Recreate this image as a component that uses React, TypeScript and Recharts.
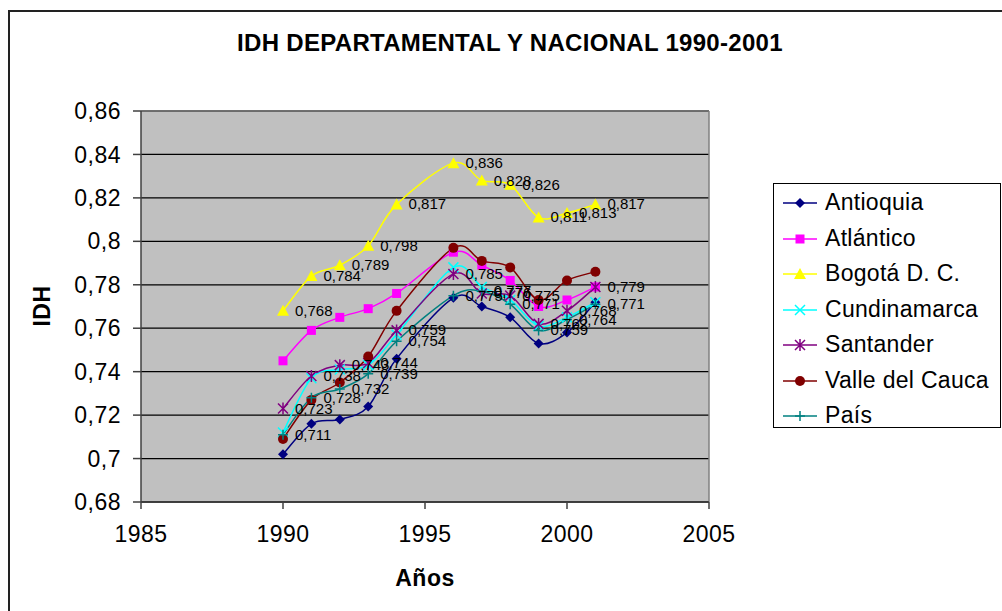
import { LineChart, Line, XAxis, YAxis, CartesianGrid, Legend, LabelList, ReferenceLine } from "recharts";

const years = [1990, 1991, 1992, 1993, 1994, 1996, 1997, 1998, 1999, 2000, 2001];

const antioquia = [0.702, 0.716, 0.718, 0.724, 0.746, 0.774, 0.77, 0.765, 0.753, 0.758, 0.772];
const atlantico = [0.745, 0.759, 0.765, 0.769, 0.776, 0.795, 0.789, 0.782, 0.77, 0.773, 0.779];
const bogota = [0.768, 0.784, 0.789, 0.798, 0.817, 0.836, 0.828, 0.826, 0.811, 0.813, 0.817];
const cundinamarca = [0.712, 0.737, 0.741, 0.743, 0.757, 0.788, 0.779, 0.773, 0.761, 0.765, 0.772];
const santander = [0.723, 0.738, 0.743, 0.744, 0.759, 0.785, 0.776, 0.775, 0.762, 0.768, 0.779];
const valle = [0.709, 0.727, 0.735, 0.747, 0.768, 0.797, 0.791, 0.788, 0.773, 0.782, 0.786];
const pais = [0.711, 0.728, 0.732, 0.739, 0.754, 0.775, 0.777, 0.771, 0.759, 0.764, 0.771];

const xTicks = [1985, 1990, 1995, 2000, 2005];
const yTicks = [0.68, 0.7, 0.72, 0.74, 0.76, 0.78, 0.8, 0.82, 0.84, 0.86];

const series = [
  { key: "Antioquia", values: antioquia, color: "#000080", marker: "diamond", labels: false },
  { key: "Atlántico", values: atlantico, color: "#FF00FF", marker: "square", labels: false },
  { key: "Bogotá D. C.", values: bogota, color: "#FFFF00", marker: "triangle", labels: true },
  { key: "Cundinamarca", values: cundinamarca, color: "#00FFFF", marker: "x", labels: false },
  { key: "Santander", values: santander, color: "#800080", marker: "star", labels: true },
  { key: "Valle del Cauca", values: valle, color: "#800000", marker: "circle", labels: false },
  { key: "País", values: pais, color: "#008080", marker: "plus", labels: true },
];

const data = years.map((year, i) => {
  const row: any = { year };
  series.forEach((s) => (row[s.key] = s.values[i]));
  return row;
});

const FONT = "'Liberation Sans', Arial, sans-serif";
const fmt = (v: number) => String(+Number(v).toFixed(3)).replace(".", ",");

// excel style smoothing (catmull-rom)
function smooth(context: any) {
  let pts: number[][] = [];
  return {
    areaStart() {},
    areaEnd() {},
    lineStart() {
      pts = [];
    },
    lineEnd() {
      if (!pts.length) return;
      context.moveTo(pts[0][0], pts[0][1]);
      for (let i = 0; i < pts.length - 1; i++) {
        const p0 = pts[i - 1] || pts[i];
        const p1 = pts[i];
        const p2 = pts[i + 1];
        const p3 = pts[i + 2] || p2;
        context.bezierCurveTo(
          p1[0] + (p2[0] - p0[0]) / 6,
          p1[1] + (p2[1] - p0[1]) / 6,
          p2[0] - (p3[0] - p1[0]) / 6,
          p2[1] - (p3[1] - p1[1]) / 6,
          p2[0],
          p2[1]
        );
      }
    },
    point(x: number, y: number) {
      pts.push([+x, +y]);
    },
  };
}

function Marker({ type, x, y, color }: { type: string; x: number; y: number; color: string }) {
  switch (type) {
    case "diamond":
      return <polygon points={`${x},${y - 5} ${x + 5},${y} ${x},${y + 5} ${x - 5},${y}`} fill={color} />;
    case "square":
      return <rect x={x - 4.5} y={y - 4.5} width={9} height={9} fill={color} />;
    case "triangle":
      return <polygon points={`${x},${y - 6} ${x + 6},${y + 5} ${x - 6},${y + 5}`} fill={color} />;
    case "x":
      return (
        <path d={`M${x - 5},${y - 5}L${x + 5},${y + 5}M${x + 5},${y - 5}L${x - 5},${y + 5}`} stroke={color} strokeWidth={1.5} />
      );
    case "star":
      return (
        <path
          d={`M${x - 5},${y - 5}L${x + 5},${y + 5}M${x + 5},${y - 5}L${x - 5},${y + 5}M${x},${y - 6}L${x},${y + 6}`}
          stroke={color}
          strokeWidth={1.5}
        />
      );
    case "circle":
      return <circle cx={x} cy={y} r={5} fill={color} />;
    default:
      return <path d={`M${x - 5},${y}L${x + 5},${y}M${x},${y - 5}L${x},${y + 5}`} stroke={color} strokeWidth={1.5} />;
  }
}

function LegendBox() {
  return (
    <div
      style={{
        width: 226,
        height: 243,
        border: "1px solid #000",
        background: "#fff",
        fontFamily: FONT,
        fontSize: 23,
        letterSpacing: 0.3,
        position: "relative",
      }}
    >
      {series.map((s, i) => (
        <div key={s.key} style={{ position: "absolute", left: 0, top: 19 + i * 35.5 - 14, height: 28, width: 226 }}>
          <svg width={50} height={28} style={{ position: "absolute", left: 0, top: 0 }}>
            <line x1={9} x2={43} y1={14} y2={14} stroke={s.color} strokeWidth={1.5} />
            <Marker type={s.marker} x={26} y={14} color={s.color} />
          </svg>
          <span style={{ position: "absolute", left: 51, top: 0, whiteSpace: "nowrap", color: "#000" }}>{s.key}</span>
        </div>
      ))}
    </div>
  );
}

export default function App() {
  return (
    <div style={{ position: "fixed", left: 0, top: 0, width: 1002, height: 611, overflow: "hidden", background: "#fff" }}>
      <div style={{ position: "absolute", left: 8, top: 10, width: 1100, height: 700, border: "2px solid #222" }} />
      <div
        style={{
          position: "absolute",
          left: 0,
          width: 1020,
          top: 29,
          textAlign: "center",
          fontFamily: FONT,
          fontWeight: "bold",
          fontSize: 24,
          letterSpacing: 0.3,
        }}
      >
        IDH DEPARTAMENTAL Y NACIONAL 1990-2001
      </div>
      <div
        style={{
          position: "absolute",
          left: 42,
          top: 306,
          transform: "translate(-50%, -50%) rotate(-90deg)",
          fontFamily: FONT,
          fontWeight: "bold",
          fontSize: 23,
          letterSpacing: 0.5,
        }}
      >
        IDH
      </div>
      <div
        style={{
          position: "absolute",
          left: 425,
          top: 578,
          transform: "translate(-50%, -50%)",
          fontFamily: FONT,
          fontWeight: "bold",
          fontSize: 23,
          letterSpacing: 0.5,
        }}
      >
        Años
      </div>
      <div style={{ position: "absolute", left: 0, top: 0 }}>
        <LineChart width={1002} height={611} data={data} margin={{ top: 111, right: 293, bottom: 49, left: 61 }}>
          <CartesianGrid vertical={false} stroke="#000" strokeWidth={1.3} fill="#C0C0C0" fillOpacity={1} />
          <XAxis
            dataKey="year"
            type="number"
            domain={[1985, 2005]}
            ticks={xTicks}
            height={60}
            tickSize={7}
            tickMargin={17}
            stroke="#404040"
            strokeWidth={1.5}
            tick={{ fill: "#000", fontFamily: FONT, fontSize: 23, letterSpacing: 0.5 }}
          />
          <YAxis
            type="number"
            domain={[0.68, 0.86]}
            ticks={yTicks}
            width={80}
            tickSize={8}
            tickMargin={12}
            tickFormatter={fmt}
            stroke="#404040"
            strokeWidth={1.5}
            tick={{ fill: "#000", fontFamily: FONT, fontSize: 23, letterSpacing: 0.5 }}
          />
          <ReferenceLine y={0.86} stroke="#808080" strokeWidth={1.5} />
          <ReferenceLine x={2005} stroke="#808080" strokeWidth={1.5} />
          <Legend
            layout="vertical"
            align="center"
            verticalAlign="middle"
            content={() => <LegendBox />}
            wrapperStyle={{ left: 773, top: 183, width: 228, height: 245 }}
          />
          {series.map((s) => (
            <Line
              key={s.key}
              dataKey={s.key}
              name={s.key}
              type={smooth as any}
              stroke={s.color}
              strokeWidth={1.5}
              isAnimationActive={false}
              dot={(p: any) => (
                <g key={`${s.key}-${p.index}`}>
                  <Marker type={s.marker} x={p.cx} y={p.cy} color={s.color} />
                </g>
              )}
              activeDot={false}
            >
              {s.labels && (
                <LabelList
                  dataKey={s.key}
                  content={(p: any) => (
                    <text x={p.x + 12} y={p.y + 5} fontFamily={FONT} fontSize={15} fill="#000">
                      {fmt(p.value)}
                    </text>
                  )}
                />
              )}
            </Line>
          ))}
        </LineChart>
      </div>
    </div>
  );
}
